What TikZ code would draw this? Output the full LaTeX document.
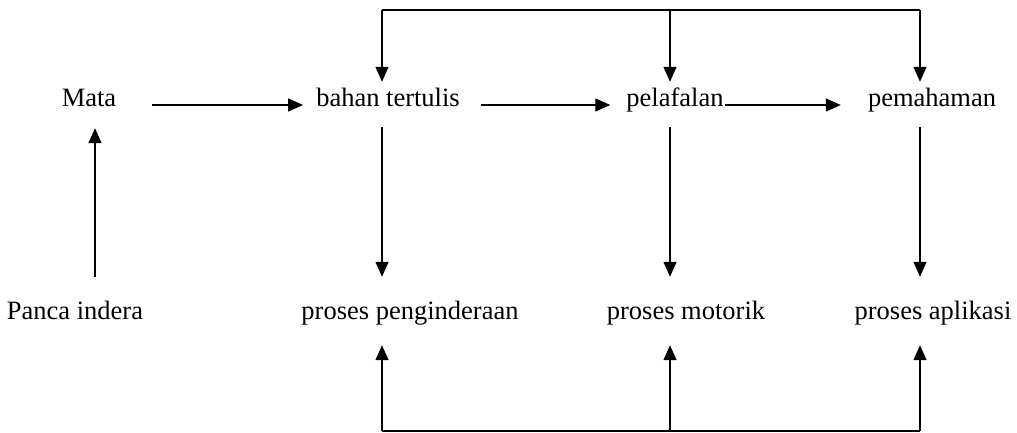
\documentclass[tikz,border=0pt]{standalone}
\usepackage{fontspec}
\setmainfont{Liberation Serif}
\usetikzlibrary{arrows.meta}

\tikzset{
  term/.style={anchor=base, inner xsep=0pt, inner ysep=7pt,
    text height=18pt, text depth=6pt,
    font=\fontsize{26.5}{30}\selectfont},
  flow/.style={line width=1.3pt,
    -{Triangle[length=15pt,width=13pt]}},
  rail/.style={line width=1.3pt}
}

\begin{document}
\begin{tikzpicture}[x=1pt,y=1pt]
  \useasboundingbox (0,0) rectangle (1017,433);

  % upper row
  \node[term] (mata)  at (89,326)  {Mata};
  \node[term] (bahan) at (388,326) {bahan tertulis};
  \node[term] (lafal) at (675,326) {pelafalan};
  \node[term] (paham) at (932,326) {pemahaman};

  % lower row
  \node[term] (panca) at (75,113)  {Panca indera};
  \node[term] (indra) at (410,113) {proses penginderaan};
  \node[term] (motor) at (686,113) {proses motorik};
  \node[term] (aplik) at (933,113) {proses aplikasi};

  % rails above and below
  \coordinate (ta) at (382,423);
  \coordinate (tb) at (670,423);
  \coordinate (tc) at (920,423);
  \coordinate (ba) at (382,2);
  \coordinate (bb) at (670,2);
  \coordinate (bc) at (920,2);
  \draw[rail] (ta) -- (tc);
  \draw[rail] (ba) -- (bc);

  % feeds from the upper rail
  \draw[flow] (ta) -- (ta |- bahan.north);
  \draw[flow] (tb) -- (tb |- lafal.north);
  \draw[flow] (tc) -- (tc |- paham.north);

  % feeds from the lower rail
  \draw[flow, shorten >=12pt] (ba) -- (ba |- indra.south);
  \draw[flow, shorten >=12pt] (bb) -- (bb |- motor.south);
  \draw[flow, shorten >=12pt] (bc) -- (bc |- aplik.south);

  % upper row chain
  \draw[flow, shorten <=36pt, shorten >=13pt]
    ([yshift=2pt]mata.base east) -- ([yshift=2pt]bahan.base west);
  \draw[flow, shorten <=21pt, shorten >=16pt]
    ([yshift=2pt]bahan.base east) -- ([yshift=2pt]lafal.base west);
  \draw[flow, shorten <=1pt, shorten >=27pt]
    ([yshift=2pt]lafal.base east) -- ([yshift=2pt]paham.base west);

  % downward links between the rows
  \draw[flow, shorten <=7pt, shorten >=18pt] (ta |- bahan.south) -- (ta |- indra.north);
  \draw[flow, shorten <=7pt, shorten >=18pt] (tb |- lafal.south) -- (tb |- motor.north);
  \draw[flow, shorten <=7pt, shorten >=18pt] (tc |- paham.south) -- (tc |- aplik.north);

  % senses up to the eye
  \draw[flow, shorten <=18pt, shorten >=8pt] (95,0 |- panca.north) -- (95,0 |- mata.south);
\end{tikzpicture}
\end{document}
